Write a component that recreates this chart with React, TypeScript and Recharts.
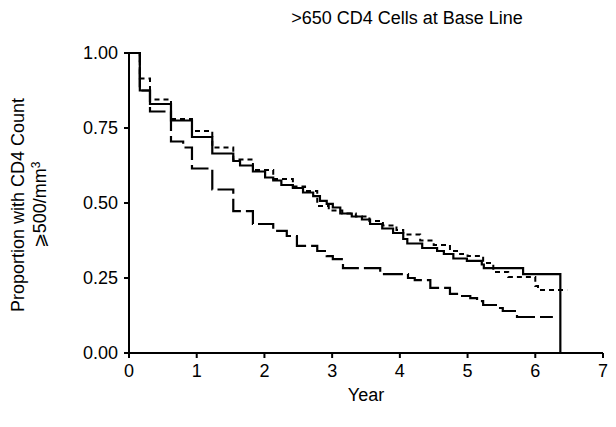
import { LineChart, Line, XAxis, YAxis } from 'recharts';

// Kaplan-Meier style step curves: year at which the step happens, proportion after it
const solidYears = [0, 0.16, 0.31, 0.62, 0.93, 1.23, 1.54, 1.64, 1.83, 2.01, 2.13, 2.25, 2.42, 2.57, 2.72, 2.82, 2.92, 3.01, 3.12, 3.29, 3.44, 3.56, 3.74, 3.9, 4.05, 4.11, 4.33, 4.55, 4.65, 4.79, 4.99, 5.21, 5.24, 5.82, 6.37];
const solidValues = [1.0, 0.875, 0.83, 0.775, 0.72, 0.665, 0.64, 0.625, 0.605, 0.585, 0.575, 0.56, 0.55, 0.535, 0.523, 0.507, 0.497, 0.485, 0.465, 0.455, 0.445, 0.43, 0.415, 0.4, 0.38, 0.365, 0.35, 0.34, 0.33, 0.315, 0.307, 0.295, 0.283, 0.263, 0];

const dottedYears = [0, 0.16, 0.31, 0.62, 0.93, 1.23, 1.54, 1.83, 2.13, 2.42, 2.6, 2.78, 2.95, 3.15, 3.35, 3.55, 3.75, 3.95, 4.05, 4.3, 4.5, 4.74, 4.89, 5.0, 5.23, 5.38, 5.6, 6.0, 6.04, 6.47];
const dottedValues = [1.0, 0.915, 0.845, 0.78, 0.74, 0.685, 0.645, 0.61, 0.58, 0.555, 0.54, 0.49, 0.475, 0.465, 0.455, 0.44, 0.425, 0.41, 0.395, 0.375, 0.36, 0.34, 0.33, 0.323, 0.3, 0.27, 0.253, 0.223, 0.21, 0.21];

const dashedYears = [0, 0.16, 0.31, 0.62, 0.8, 0.93, 1.23, 1.54, 1.83, 2.13, 2.33, 2.48, 2.78, 2.92, 3.01, 3.16, 3.71, 4.12, 4.22, 4.45, 4.74, 4.9, 5.04, 5.14, 5.23, 5.48, 5.52, 5.73, 6.26];
const dashedValues = [1.0, 0.875, 0.805, 0.705, 0.685, 0.615, 0.545, 0.473, 0.43, 0.407, 0.39, 0.357, 0.34, 0.323, 0.313, 0.283, 0.263, 0.25, 0.243, 0.217, 0.197, 0.19, 0.183, 0.173, 0.16, 0.15, 0.14, 0.12, 0.12];

const xTicks = [0, 1, 2, 3, 4, 5, 6, 7];
const yTicks = [0, 0.25, 0.5, 0.75, 1];

const toRows = (years: number[], values: number[]) =>
  years.map((t, i) => ({ t, p: values[i] }));

const solid = toRows(solidYears, solidValues);
const dotted = toRows(dottedYears, dottedValues);
const dashed = toRows(dashedYears, dashedValues);

const font = 'Arial, "Liberation Sans", Helvetica, sans-serif';

function YLabel() {
  return (
    <g>
      <text x={24} y={205} transform="rotate(-90 24 205)" textAnchor="middle" fontSize={18} fontFamily={font} fill="#000">
        Proportion with CD4 Count
      </text>
      <text x={46} y={205} transform="rotate(-90 46 205)" textAnchor="middle" fontSize={18} fontFamily={font} fill="#000">
        ⩾500/mm<tspan dy={-6} fontSize={12}>3</tspan>
      </text>
    </g>
  );
}

export default function App() {
  return (
    <div style={{ position: 'relative', width: 616, height: 427, margin: -8, background: '#fff' }}>
      <div style={{ position: 'absolute', left: 0, width: 616, top: 8, textAlign: 'center', paddingLeft: 198, boxSizing: 'border-box', fontFamily: font, fontSize: 18, color: '#000' }}>
        {'>'}650 CD4 Cells at Base Line
      </div>
      <LineChart width={616} height={427} margin={{ top: 53, right: 13, bottom: 44, left: 69 }}>
        <XAxis
          dataKey="t"
          type="number"
          domain={[0, 7]}
          ticks={xTicks}
          height={30}
          stroke="#000"
          strokeWidth={2}
          tickSize={5}
          tickMargin={6}
          tick={{ fill: '#000', fontSize: 18, fontFamily: font }}
          label={{ value: 'Year', position: 'insideBottom', offset: -18, fill: '#000', fontSize: 18, fontFamily: font }}
        />
        <YAxis
          type="number"
          domain={[0, 1]}
          ticks={yTicks}
          width={60}
          stroke="#000"
          strokeWidth={2}
          tickSize={5}
          tickMargin={6}
          tickFormatter={(v: number) => v.toFixed(2)}
          tick={{ fill: '#000', fontSize: 18, fontFamily: font }}
          label={{ content: () => <YLabel /> }}
        />
        <Line data={solid} dataKey="p" type="stepAfter" stroke="#000" strokeWidth={2.2} dot={false} isAnimationActive={false} />
        <Line data={dotted} dataKey="p" type="stepAfter" stroke="#000" strokeWidth={2} strokeDasharray="5 4" dot={false} isAnimationActive={false} />
        <Line data={dashed} dataKey="p" type="stepAfter" stroke="#000" strokeWidth={2.2} strokeDasharray="20 5" dot={false} isAnimationActive={false} />
      </LineChart>
    </div>
  );
}
